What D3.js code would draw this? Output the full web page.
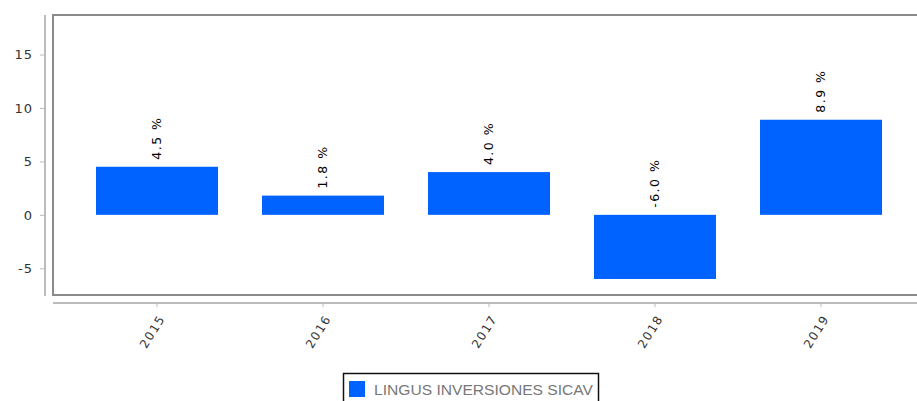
<!DOCTYPE html>
<html><head><meta charset="utf-8">
<script src="https://cdn.jsdelivr.net/npm/d3@7"></script>
<style>body{margin:0;background:#fff;}svg{display:block;}</style>
</head><body>
<svg id="c" width="917" height="401"></svg>
<script>
const categories = ["2015","2016","2017","2018","2019"];
const values = [4.5, 1.8, 4.0, -6.0, 8.9];
const yTicks = [-5, 0, 5, 10, 15];
const seriesName = "LINGUS INVERSIONES SICAV";

const svg = d3.select("#c");
const blue = "#0062ff";

const x = d3.scaleBand().domain(categories).range([74, 904]).paddingInner(0.265).paddingOuter(0.1325);
const y = d3.scaleLinear().domain([-7.5, 18.7]).range([295, 15]);

// plot frame
svg.append("rect").attr("x", 53).attr("y", 15).attr("width", 900).attr("height", 280)
  .attr("fill", "#fff").attr("stroke", "#8a8a8a").attr("stroke-width", 2);

// y axis
const yAxis = svg.append("g").attr("transform", "translate(45,0)")
  .call(d3.axisLeft(y).tickValues(yTicks).tickFormat(d => String(d)).tickSize(5).tickPadding(7).tickSizeOuter(0));
yAxis.select(".domain").attr("stroke", "#bbb").attr("stroke-width", 2).attr("d", `M0,${15}V${296}`);
yAxis.selectAll(".tick line").attr("stroke", "#bbb");
yAxis.selectAll(".tick text").attr("fill", "#333").style("font-family", "DejaVu Sans").style("font-size", "13px").style("letter-spacing", "1px");

// x axis
const xAxis = svg.append("g").attr("transform", "translate(0,303)")
  .call(d3.axisBottom(x).tickSize(4).tickSizeOuter(0));
xAxis.select(".domain").attr("stroke", "#bbb").attr("stroke-width", 2).attr("d", "M53,0H917");
xAxis.selectAll(".tick line").attr("stroke", "#bbb");
xAxis.selectAll(".tick text")
  .attr("fill", "#333").style("font-family", "DejaVu Sans").style("font-size", "12px").style("letter-spacing", "1.5px")
  .attr("text-anchor", "end").attr("dy", "0.35em").attr("y", 0).attr("x", 0)
  .attr("transform", "translate(5,13) rotate(-58)");

// bars
svg.append("g").selectAll("rect").data(values).join("rect")
  .attr("x", (d, i) => x(categories[i]))
  .attr("width", x.bandwidth())
  .attr("y", d => y(Math.max(0, d)))
  .attr("height", d => Math.abs(y(d) - y(0)))
  .attr("fill", blue);

// value labels
svg.append("g").selectAll("text").data(values).join("text")
  .attr("transform", (d, i) => `translate(${x(categories[i]) + x.bandwidth()/2},${y(Math.max(0, d)) - 7}) rotate(-90)`)
  .attr("dy", "0.35em")
  .attr("text-anchor", "start")
  .style("font-family", "DejaVu Sans").style("font-size", "12.5px").style("letter-spacing", "1.5px").attr("fill", "#000")
  .text(d => d.toFixed(1) + " %");

// legend
const lg = svg.append("g");
lg.append("rect").attr("x", 343.5).attr("y", 373.5).attr("width", 255).attr("height", 40)
  .attr("fill", "#fff").attr("stroke", "#111").attr("stroke-width", 1.5);
lg.append("rect").attr("x", 349).attr("y", 381).attr("width", 16).attr("height", 16).attr("fill", blue);
lg.append("text").attr("x", 374).attr("y", 395).attr("fill", "#777")
  .style("font-family", "Liberation Sans").style("font-size", "14px")
  .attr("textLength", 219).attr("lengthAdjust", "spacingAndGlyphs")
  .text(seriesName);
</script>
</body></html>
